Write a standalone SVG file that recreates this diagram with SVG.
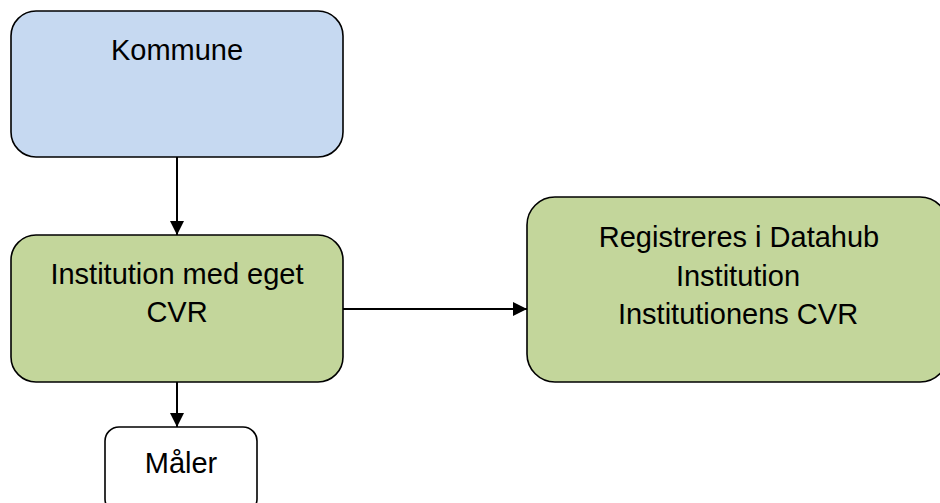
<svg xmlns="http://www.w3.org/2000/svg" width="940" height="503" viewBox="0 0 940 503">
<style>
.box{stroke:#000;stroke-width:1.6}
.t{font-family:"Liberation Sans",Arial,sans-serif;font-size:29px;fill:#000;text-anchor:middle}
.c{stroke:#000;stroke-width:2;fill:none}
</style>
<defs>
<marker id="ah" viewBox="0 0 14 14" refX="14" refY="7" markerWidth="14" markerHeight="14" markerUnits="userSpaceOnUse" orient="auto">
<path d="M0,0 L14,7 L0,14 Z" fill="#000"/>
</marker>
</defs>
<g id="connectors">
<line class="c" x1="177" y1="157" x2="177" y2="235" marker-end="url(#ah)"/>
<line class="c" x1="177" y1="382" x2="177" y2="427" marker-end="url(#ah)"/>
<line class="c" x1="343" y1="309" x2="527" y2="309" marker-end="url(#ah)"/>
</g>
<g id="kommune">
<rect class="box" x="11" y="11" width="332" height="146" rx="25" fill="#c6d9f1"/>
<text class="t" x="177" y="60">Kommune</text>
</g>
<g id="institution">
<rect class="box" x="11" y="235" width="332" height="147" rx="25" fill="#c3d69b"/>
<text class="t" x="177" y="284">Institution med eget</text>
<text class="t" x="177" y="322">CVR</text>
</g>
<g id="maaler">
<rect class="box" x="105" y="427" width="152" height="86" rx="14" fill="#fff"/>
<text class="t" x="181" y="473">Måler</text>
</g>
<g id="datahub">
<rect class="box" x="527" y="197" width="421" height="185" rx="28" fill="#c3d69b"/>
<text class="t" x="739" y="247">Registreres i Datahub</text>
<text class="t" x="738" y="286">Institution</text>
<text class="t" x="738" y="324">Institutionens CVR</text>
</g>
</svg>
